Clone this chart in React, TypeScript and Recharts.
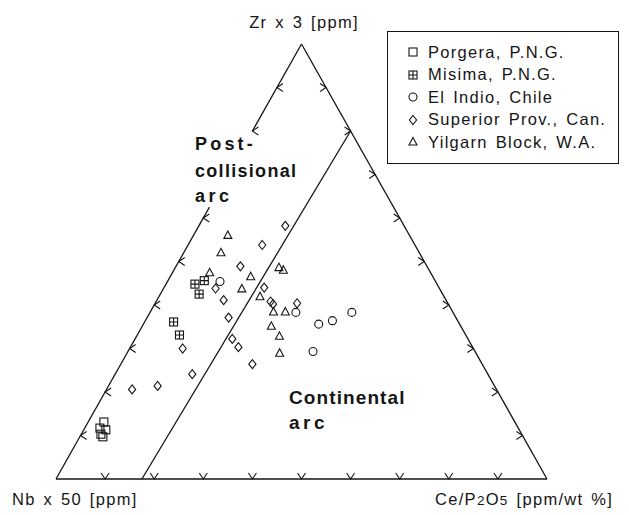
import { Legend, ReferenceLine, Scatter, ScatterChart, XAxis, YAxis } from "recharts";

// compositions, in % : [Zr x 3, Ce/P2O5]  (Nb x 50 is the rest)
const porgera = [
  [13.1, 3.2],
  [11.7, 3.1],
  [11.3, 4.5],
  [10.3, 4.0],
  [9.7, 4.7],
];
const misima = [
  [44.8, 5.9],
  [45.6, 7.4],
  [42.5, 7.9],
  [36.1, 5.9],
  [33.1, 8.6],
];
const elIndio = [
  [45.4, 10.7],
  [38.3, 29.7],
  [38.3, 41.1],
  [36.4, 38.1],
  [35.6, 35.7],
  [29.3, 37.7],
];
const superior = [
  [58.2, 17.6],
  [53.8, 15.1],
  [48.9, 13.1],
  [43.8, 10.6],
  [44.0, 20.4],
  [41.1, 13.6],
  [40.8, 23.3],
  [40.2, 24.1],
  [40.4, 28.9],
  [37.1, 16.6],
  [32.2, 19.8],
  [30.3, 22.0],
  [30.0, 10.8],
  [26.4, 26.8],
  [24.1, 15.7],
  [21.4, 10.0],
  [20.6, 5.2],
];
const yilgarn = [
  [56.0, 7.0],
  [52.0, 7.6],
  [48.6, 21.1],
  [48.0, 22.3],
  [47.4, 7.6],
  [46.5, 16.4],
  [43.7, 16.0],
  [41.9, 20.6],
  [38.4, 25.1],
  [38.4, 27.5],
  [35.1, 26.3],
  [32.8, 29.1],
  [28.9, 31.1],
];

const seriesNames = [
  "Porgera, P.N.G.",
  "Misima, P.N.G.",
  "El Indio, Chile",
  "Superior Prov., Can.",
  "Yilgarn Block, W.A.",
];

// tick marks every 10 % along each side
const baseTicks = [10, 20, 30, 40, 50, 60, 70, 80, 90];
const leftTicks = [10, 20, 30, 40, 50, 60, 80, 90];
const rightTicks = [10, 20, 30, 40, 50, 60, 70, 80, 90];

// field boundary: Ce 17.5 on the base to Zr 80 on the right side
const boundary = [
  [0, 17.5],
  [80, 20],
];

const FONT = "'Liberation Sans', Arial, sans-serif";
const INK = "#151515";

// ternary -> plot units (x along the base, y = height in %)
const toXY = ([zr, ce]: number[]) => ({ x: ce + zr / 2, y: zr });

type Kind = "square" | "gridSquare" | "circle" | "diamond" | "triangle";

function Marker({ kind, cx, cy }: { kind: Kind; cx: number; cy: number }) {
  const common = { fill: "none", stroke: INK, strokeWidth: 1.1 };
  if (kind === "square") {
    return <rect x={cx - 4} y={cy - 4} width={8} height={8} {...common} />;
  }
  if (kind === "gridSquare") {
    return (
      <g {...common}>
        <rect x={cx - 4} y={cy - 4} width={8} height={8} />
        <path d={`M${cx - 4},${cy}H${cx + 4}M${cx},${cy - 4}V${cy + 4}`} />
      </g>
    );
  }
  if (kind === "circle") {
    return <circle cx={cx} cy={cy} r={4} {...common} />;
  }
  if (kind === "diamond") {
    return (
      <path
        d={`M${cx},${cy - 4.5}L${cx + 3.6},${cy}L${cx},${cy + 4.5}L${cx - 3.6},${cy}Z`}
        {...common}
      />
    );
  }
  return (
    <path
      d={`M${cx},${cy - 4.5}L${cx + 4},${cy + 3}L${cx - 4},${cy + 3}Z`}
      {...common}
    />
  );
}

const kinds: Kind[] = ["square", "gridSquare", "circle", "diamond", "triangle"];
const kindByName: Record<string, Kind> = Object.fromEntries(
  seriesNames.map((n, i) => [n, kinds[i]]),
);

const tickShape =
  (dir: "down" | "left" | "right") =>
  (props: any) => {
    const { cx, cy } = props;
    let d = "";
    if (dir === "down") d = `M${cx - 4},${cy - 6}L${cx},${cy}L${cx + 4},${cy - 6}`;
    if (dir === "left") d = `M${cx + 6},${cy - 4}L${cx},${cy}L${cx + 6},${cy + 4}`;
    if (dir === "right") d = `M${cx - 6},${cy - 4}L${cx},${cy}L${cx - 6},${cy + 4}`;
    return <path d={d} fill="none" stroke={INK} strokeWidth={1.1} />;
  };

function LegendBox({ payload }: any) {
  const items = (payload ?? [])
    .filter((p: any) => kindByName[p.value])
    .sort(
      (a: any, b: any) =>
        seriesNames.indexOf(a.value) - seriesNames.indexOf(b.value),
    );
  return (
    <div
      style={{
        width: 232,
        height: 133,
        boxSizing: "border-box",
        border: `1.3px solid ${INK}`,
        background: "#fff",
        paddingTop: 9,
        fontFamily: FONT,
        fontSize: 16.5,
        letterSpacing: 1.3,
        wordSpacing: 2,
        color: INK,
      }}
    >
      {items.map((p: any) => (
        <div
          key={p.value}
          style={{ height: 22.5, display: "flex", alignItems: "center" }}
        >
          <svg width={16} height={16} style={{ marginLeft: 17, marginRight: 7 }}>
            <Marker kind={kindByName[p.value]} cx={8} cy={8} />
          </svg>
          <span style={{ whiteSpace: "nowrap" }}>{p.value}</span>
        </div>
      ))}
    </div>
  );
}

const edge = { stroke: INK, strokeWidth: 1.3 };

export default function App() {
  const groups = [porgera, misima, elIndio, superior, yilgarn];
  return (
    <div style={{ position: "absolute", left: 0, top: 0, background: "#fff" }}>
      <ScatterChart
        width={629}
        height={515}
        margin={{ top: 44, right: 82, bottom: 36, left: 56 }}
      >
        <XAxis type="number" dataKey="x" domain={[0, 100]} hide />
        <YAxis type="number" dataKey="y" domain={[0, 100]} hide />

        <ReferenceLine segment={[{ x: 0, y: 0 }, { x: 100, y: 0 }]} {...edge} />
        <ReferenceLine segment={[{ x: 100, y: 0 }, { x: 50, y: 100 }]} {...edge} />
        <ReferenceLine segment={[{ x: 50, y: 100 }, toXY([80, 0])]} {...edge} />
        <ReferenceLine segment={[toXY([62.5, 0]), { x: 0, y: 0 }]} {...edge} />
        <ReferenceLine segment={[toXY(boundary[0]), toXY(boundary[1])]} {...edge} />

        <Scatter
          data={baseTicks.map((v) => ({ x: v, y: 0 }))}
          shape={tickShape("down")}
          legendType="none"
          isAnimationActive={false}
        />
        <Scatter
          data={leftTicks.map((v) => toXY([v, 0]))}
          shape={tickShape("left")}
          legendType="none"
          isAnimationActive={false}
        />
        <Scatter
          data={rightTicks.map((v) => toXY([v, 100 - v]))}
          shape={tickShape("right")}
          legendType="none"
          isAnimationActive={false}
        />

        {groups.map((g, i) => (
          <Scatter
            key={seriesNames[i]}
            name={seriesNames[i]}
            data={g.map(toXY)}
            shape={(p: any) => <Marker kind={kinds[i]} cx={p.cx} cy={p.cy} />}
            isAnimationActive={false}
          />
        ))}

        <Legend
          layout="vertical"
          align="center"
          verticalAlign="middle"
          content={<LegendBox />}
          wrapperStyle={{ left: 387, top: 31, width: 232, height: 133 }}
        />

        <g fontFamily={FONT} fill={INK}>
          <text x={304} y={28} fontSize={16.5} textAnchor="middle" letterSpacing={1.3} wordSpacing={2}>
            Zr x 3 [ppm]
          </text>
          <text x={12} y={505} fontSize={16.5} letterSpacing={1.3} wordSpacing={2}>
            Nb x 50 [ppm]
          </text>
          <text x={435} y={505} fontSize={16.5} letterSpacing={1.3} wordSpacing={2}>
            Ce/P<tspan fontSize={13.5}>2</tspan>O<tspan fontSize={13.5}>5</tspan> [ppm/wt %]
          </text>

          <g fontWeight="bold" fontSize={18}>
            <text x={195} y={149.5} letterSpacing={3.2}>Post-</text>
            <text x={195} y={176.5} letterSpacing={1.3}>collisional</text>
            <text x={195} y={201.5} letterSpacing={3.5}>arc</text>
          </g>
          <g fontWeight="bold" fontSize={19}>
            <text x={289} y={404} letterSpacing={1.1}>Continental</text>
            <text x={289} y={429} letterSpacing={3.5}>arc</text>
          </g>
        </g>
      </ScatterChart>
    </div>
  );
}
